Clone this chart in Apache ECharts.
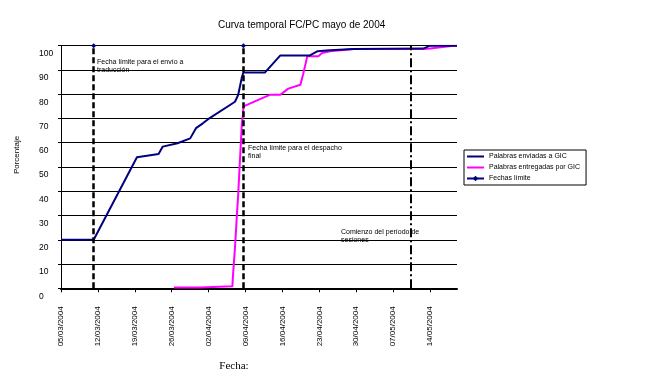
<!DOCTYPE html>
<html><head><meta charset="utf-8">
<script src="https://cdn.jsdelivr.net/npm/echarts@6/dist/echarts.min.js"></script>
<style>html,body{margin:0;padding:0;background:#fff}#c{width:651px;height:379px}</style>
</head><body><div id="c"></div>
<script>
// x values: days since 05/03/2004
const enviadasX = [0, 6.2, 14.4, 18.5, 19.3, 22.1, 24.5, 25.6, 26.9, 27.9, 33.0, 33.6, 34.3, 34.6, 38.7, 41.6, 47.2, 48.6, 51.0, 55.5, 68.7, 70.0, 75.1];
const enviadasY = [20, 20, 54, 55.4, 58.4, 59.8, 61.8, 66, 68, 69.7, 76.9, 79.7, 87, 89, 89, 96, 96, 97.7, 98.1, 98.6, 98.8, 100, 100];
const entregadasX = [21.4, 26.4, 26.4, 32.5, 32.6, 33.0, 33.3, 33.6, 34.3, 34.5, 34.6, 39.7, 41.6, 43.1, 45.4, 45.9, 46.7, 48.8, 49.5, 51.0, 55.5, 68.7, 70.0, 74.4, 75.1];
const entregadasY = [0.3, 0.3, 0.8, 0.8, 4.8, 17, 28, 38.5, 68, 71.4, 75, 79.8, 79.8, 82.3, 83.9, 88, 95.6, 95.6, 97, 97.7, 98.6, 98.6, 98.8, 100, 100];
const fechasLimiteX = [6.2, 34.6];
const fechasLimiteY = [100, 100];
const inicioSesionesX = 66.4;
const xTickLabels = ['05/03/2004','12/03/2004','19/03/2004','26/03/2004','02/04/2004','09/04/2004','16/04/2004','23/04/2004','30/04/2004','07/05/2004','14/05/2004'];
const yTickValues = [0,10,20,30,40,50,60,70,80,90,100];
const seriesNames = ['Palabras enviadas a GIC','Palabras entregadas por GIC','Fechas límite'];

const START = Date.UTC(2004, 2, 5);
function toDay(s){ const p = s.split('/'); return Math.round((Date.UTC(+p[2], +p[1]-1, +p[0]) - START)/86400000); }
const xTickDays = xTickLabels.map(toDay);
const zip = (xs, ys) => xs.map((x,i) => [x, ys[i]]);

const FONT = 'Liberation Sans, Arial, sans-serif';
const LINE_ICON = 'path://M0,0H17V2H0Z';
const chart = echarts.init(document.getElementById('c'), null, {renderer:'canvas'});
chart.setOption({
  animation:false,
  backgroundColor:'#fff',
  title:{text:'Curva temporal FC/PC mayo de 2004', left:218, top:20, padding:0,
    textStyle:{fontFamily:FONT, fontSize:10, fontWeight:'normal', color:'#000'}},
  grid:{left:61, right:194, top:45.7, bottom:90.7},
  legend:{orient:'vertical', left:464, top:150, padding:[3,6,3,2], itemGap:4, itemWidth:17, itemHeight:7,
    borderColor:'#000', borderWidth:1, borderRadius:0, backgroundColor:'#fff',
    textStyle:{fontFamily:FONT, fontSize:7, color:'#000'},
    data:[
      {name:seriesNames[0], icon:LINE_ICON},
      {name:seriesNames[1], icon:LINE_ICON},
      {name:seriesNames[2]}
    ]},
  xAxis:{type:'value', min:0, max:75.1,
    axisLine:{lineStyle:{color:'#000', width:2}},
    axisTick:{show:true, length:4, lineStyle:{color:'#000'}, customValues:xTickDays},
    axisLabel:{rotate:90, margin:18, fontFamily:FONT, fontSize:8, color:'#000', customValues:xTickDays,
      formatter:v => { const i = xTickDays.indexOf(Math.round(v)); return i>=0 ? xTickLabels[i] : ''; }},
    splitLine:{show:false}},
  yAxis:{type:'value', min:0, max:100, interval:10,
    axisLine:{show:true, lineStyle:{color:'#000', width:1}},
    axisTick:{show:true, length:3, lineStyle:{color:'#000'}},
    axisLabel:{align:'left', margin:22, verticalAlign:'top', padding:[3.5,0,0,0], fontFamily:FONT, fontSize:8.5, color:'#000'},
    splitLine:{show:true, lineStyle:{color:'#000', width:1}}},
  series:[
    {name:seriesNames[0], type:'line', data:zip(enviadasX, enviadasY), symbol:'none', z:3,
      lineStyle:{color:'#000080', width:2}, itemStyle:{color:'#000080'}},
    {name:seriesNames[1], type:'line', data:zip(entregadasX, entregadasY), symbol:'none', z:2,
      lineStyle:{color:'#FF00FF', width:2}, itemStyle:{color:'#FF00FF'}},
    {name:seriesNames[2], type:'line', data:[[fechasLimiteX[0], fechasLimiteY[0]], [20, '-'], [fechasLimiteX[1], fechasLimiteY[1]]],
      symbol:'diamond', symbolSize:5, z:4,
      lineStyle:{color:'#000080', width:1}, itemStyle:{color:'#000080'},
      markLine:{silent:true, symbol:['none','none'], label:{show:false}, animation:false,
        data:[
          {xAxis:fechasLimiteX[0], lineStyle:{color:'#000', width:2.5, type:[6,3]}},
          {xAxis:fechasLimiteX[1], lineStyle:{color:'#000', width:2.5, type:[6,3]}},
          {xAxis:inicioSesionesX, lineStyle:{color:'#000', width:2, type:[9,3,2,3]}}
        ]}}
  ],
  graphic:[
    {type:'text', left:97, top:58, style:{text:'Fecha límite para el envío a\ntraducción', font:'7px '+FONT, fill:'#000', lineHeight:8}},
    {type:'text', left:248, top:144, style:{text:'Fecha límite para el despacho\nfinal', font:'7px '+FONT, fill:'#000', lineHeight:8}},
    {type:'text', left:341, top:228, style:{text:'Comienzo del período de\nsesiones', font:'7px '+FONT, fill:'#000', lineHeight:8}},
    {type:'text', x:17, y:155, rotation:Math.PI/2, style:{text:'Porcentaje', font:'8px '+FONT, fill:'#000', align:'center', verticalAlign:'middle'}},
    {type:'text', x:234, y:366, style:{text:'Fecha:', font:'11px "Liberation Serif", "Times New Roman", serif', fill:'#000', align:'center', verticalAlign:'middle'}}
  ]
});
</script></body></html>
